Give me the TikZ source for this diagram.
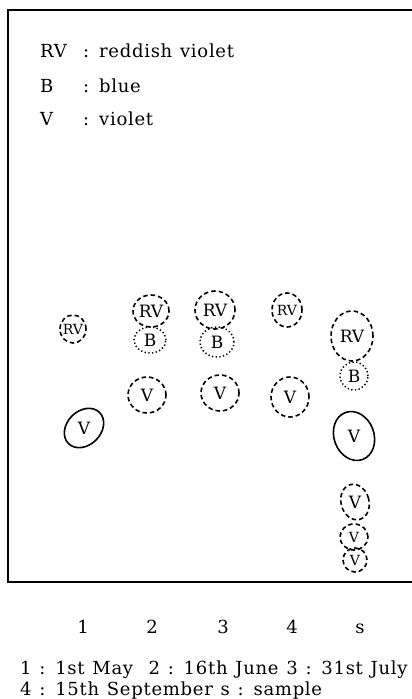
\documentclass[tikz,border=0pt]{standalone}
\usepackage{fontspec}
\setmainfont{DejaVu Serif}
\newfontfamily\platefont{DejaVu Serif}[LetterSpace=4,WordSpace=1.2]

\tikzset{
  spotlabel/.style={inner sep=0pt,font=\fontsize{17}{17}\selectfont},
  smalllabel/.style={inner sep=0pt,font=\fontsize{14}{14}\selectfont},
  dashspot/.style={line width=1.6pt,dash pattern=on 4.5pt off 3pt},
  dotspot/.style={line width=1.5pt,dash pattern=on 1.3pt off 2.4pt},
  solidspot/.style={line width=1.6pt},
  legendtext/.style={anchor=base west,inner sep=0pt,font=\platefont\fontsize{18}{18}\selectfont},
}

\begin{document}
\begin{tikzpicture}[x=1pt,y=-1pt]
  \useasboundingbox (0,0) rectangle (412,699);
  \clip (0,0) rectangle (412,699);
  \draw[line width=1.3pt] (8,10) rectangle (440,582);
  % legend
  \foreach \key/\txt/\yy in {RV/reddish violet/57,B/blue/92,V/violet/125}{
    \node[legendtext] (key\key) at (40,\yy) {\key};
    \node[legendtext] (txt\key) at (83,\yy) {: \txt};
  }
  % spots
  \foreach \nm/\x/\y/\lab/\rx/\ry/\rot/\sty/\lsty in {
      c1rv/73/329/RV/13/14/0/dashspot/smalllabel,
      c1v/84/428/V/22/17/45/solidspot/spotlabel,
      c2rv/151/311/RV/18/16/0/dashspot/spotlabel,
      c2b/150/340/B/16/13/0/dotspot/spotlabel,
      c2v/147/395/V/19/18/0/dashspot/spotlabel,
      c3rv/215/310/RV/20/19/0/dashspot/spotlabel,
      c3b/217/342/B/17/15/0/dotspot/spotlabel,
      c3v/220/393/V/19/18/0/dashspot/spotlabel,
      c4rv/287/310/RV/15/17/0/dashspot/smalllabel,
      c4v/290/397/V/19/20/0/dashspot/spotlabel,
      csrv/352/336/RV/21/25/0/dashspot/spotlabel,
      csb/354/376/B/14/14/0/dotspot/spotlabel,
      csv/354/436/V/20/25/20/solidspot/spotlabel,
      csva/355/502/V/14/18/15/dashspot/spotlabel,
      csvb/354/537/V/14/13/0/dashspot/smalllabel,
      csvc/355/560/V/12/12/0/dashspot/smalllabel}{
    \node[\lsty] (\nm) at (\x,\y) {\lab};
    \draw[\sty,rotate around={\rot:(\nm.center)}] (\nm.center) ellipse [x radius=\rx pt,y radius=\ry pt];
  }
  % columns
  \foreach \lab/\x in {1/83,2/152,3/223,4/292,s/360}
    \node[legendtext,anchor=base] (col\lab) at (\x,633) {\lab};
  \node[legendtext] (capA) at (20,674) {1 : 1st May\ \ 2 : 16th June 3 : 31st July};
  \node[legendtext] (capB) at (20,695) {4 : 15th September s : sample};
\end{tikzpicture}
\end{document}
